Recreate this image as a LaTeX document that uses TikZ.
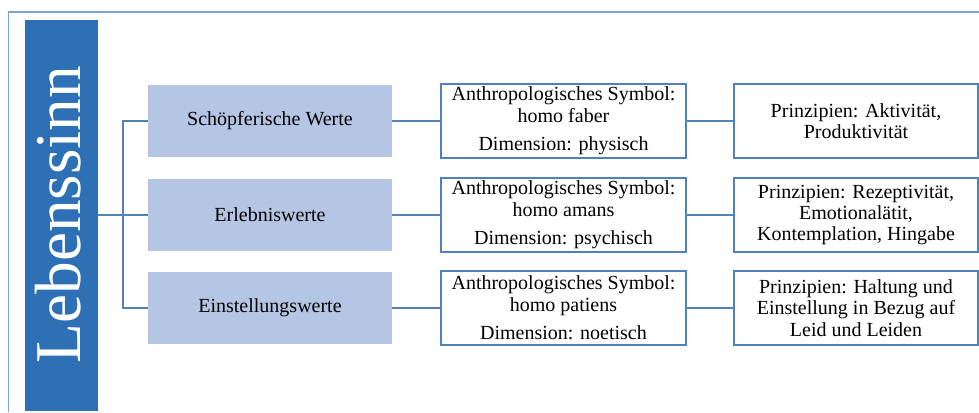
\documentclass[tikz,border=0pt]{standalone}
\usepackage{fontspec}
\setmainfont{Liberation Serif}
\usepackage{xcolor}

\definecolor{balkenblau}{RGB}{46,112,182}
\definecolor{wertblau}{RGB}{180,198,228}
\definecolor{randblau}{RGB}{79,129,189}
\definecolor{linienblau}{RGB}{84,130,180}
\definecolor{rahmenblau}{RGB}{120,165,215}

\tikzset{
  boxtext/.style={font=\fontsize{15}{16}\selectfont, inner sep=0pt, align=center},
  wert/.style={boxtext, fill=wertblau, minimum width=183pt, minimum height=54pt},
  symbol/.style={boxtext, draw=randblau, line width=1.1pt, fill=white, minimum width=183.75pt, minimum height=55.5pt},
  prinzip/.style={symbol, minimum width=183pt},
  balken/.style={fill=balkenblau, inner sep=0pt, minimum width=54.75pt, minimum height=293.25pt},
  titel/.style={rotate=90, text=white, inner sep=0pt, font=\fontsize{49}{49}\selectfont},
  verbinder/.style={draw=linienblau, line width=1.2pt},
  rahmen/.style={draw=rahmenblau, line width=0.8pt}
}

\begin{document}
\begin{tikzpicture}[x=0.75pt,y=0.75pt,yscale=-1,xscale=1]
\useasboundingbox (0,0) rectangle (979,412);

%Frame
\draw [rahmen] (8.5,412) |- (979,12);

%Bar
\node [balken] (sinn) at (61.5,215) {};
\node [titel] (sinntext) at (58.5,214.5) {Lebenssinn};

%Values
\node [wert] (wert1) at (270,121) {Schöpferische Werte};
\node [wert] (wert2) at (270,215) {Erlebniswerte};
\node [wert] (wert3) at (270,308) {Einstellungswerte};

%Symbols
\node [symbol] (symbol1) at (563.5,121) {Anthropologisches Symbol:\\homo faber\\[5.5pt]Dimension: physisch};
\node [symbol] (symbol2) at (563.5,215) {Anthropologisches Symbol:\\homo amans\\[5.5pt]Dimension: psychisch};
\node [symbol] (symbol3) at (563.5,308) {Anthropologisches Symbol:\\homo patiens\\[5.5pt]Dimension: noetisch};

%Principles
\node [prinzip] (prinzip1) at (856,121) {Prinzipien: Aktivität,\\Produktivität};
\node [prinzip] (prinzip2) at (856,215) {Prinzipien: Rezeptivität,\\Emotionalätit,\\Kontemplation, Hingabe};
\node [prinzip] (prinzip3) at (856,308) {Prinzipien: Haltung und\\Einstellung in Bezug auf\\Leid und Leiden};

%Straight Lines
\coordinate (knick) at (123,215);
\draw [verbinder] (sinn.east) -- (wert2.west);
\draw [verbinder] (wert1.west) -| (knick) |- (wert3.west);
\draw [verbinder] (wert1.east) -- (symbol1.west);
\draw [verbinder] (wert2.east) -- (symbol2.west);
\draw [verbinder] (wert3.east) -- (symbol3.west);
\draw [verbinder] (symbol1.east) -- (prinzip1.west);
\draw [verbinder] (symbol2.east) -- (prinzip2.west);
\draw [verbinder] (symbol3.east) -- (prinzip3.west);

\end{tikzpicture}
\end{document}
